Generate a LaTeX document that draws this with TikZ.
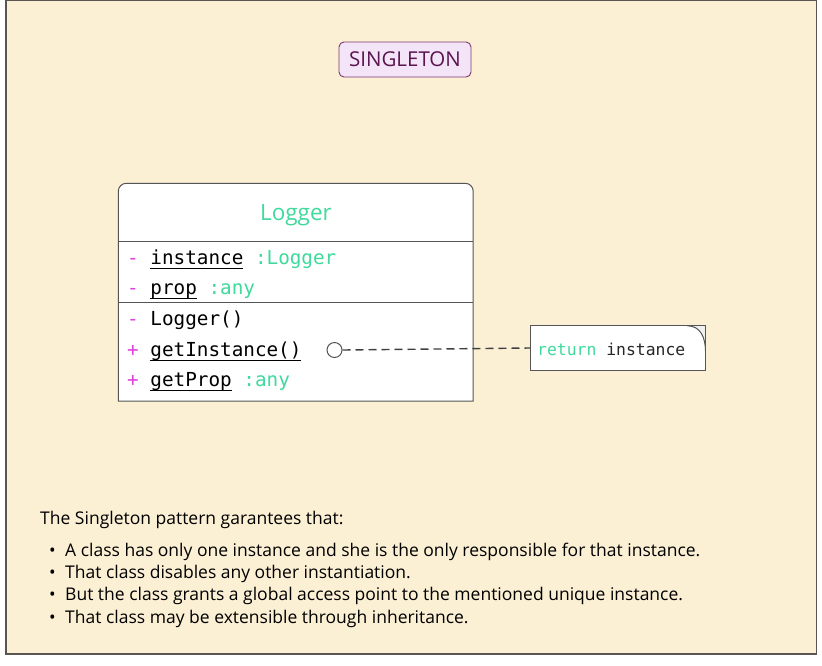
\documentclass[tikz,border=0pt]{standalone}
\usepackage{fontspec}
\setmainfont{Open Sans}
\newfontfamily\codefont{DejaVu Sans Mono}
\definecolor{bgc}{HTML}{FBEFD4}
\definecolor{framec}{HTML}{5A5550}
\definecolor{linec}{HTML}{555555}
\definecolor{mint}{HTML}{3FDA9C}
\definecolor{magen}{HTML}{DD44DD}
\definecolor{titlefill}{HTML}{F3E4F8}
\definecolor{titledraw}{HTML}{7E3A6E}
\definecolor{titletext}{HTML}{5B1650}
\definecolor{cornerc}{HTML}{F0F0F0}
\newcommand\udl[1]{\setbox0\hbox{#1}\rlap{\rule[-4pt]{\wd0}{1pt}}\box0\relax}
\tikzset{
  rowtext/.style={anchor=base west, inner sep=0pt, font=\codefont\fontsize{19.3}{22}\selectfont},
  notetext/.style={anchor=base west, inner sep=0pt, font=\codefont\fontsize{16.4}{20}\selectfont},
  bodytext/.style={anchor=base west, inner sep=0pt, font=\fontsize{17.5}{20}\selectfont},
  sepline/.style={draw=linec, line width=1pt},
}
\begin{document}
\begin{tikzpicture}[x=1pt, y=-1pt]
\useasboundingbox (0,0) rectangle (822,665);
\fill[white] (0,0) rectangle (822,665);
\draw[fill=bgc, draw=framec, line width=1.2pt] (6,0.6) rectangle (816.4,654);

% title
\node[draw=titledraw, fill=titlefill, rounded corners=5pt, line width=0.9pt,
      minimum width=132pt, minimum height=35pt, inner sep=0pt,
      font=\fontsize{20.5}{24}\selectfont, text=titletext] (title) at (405,59.5) {SINGLETON};

% class box
\node[inner sep=0pt, minimum width=354.5pt, minimum height=217.5pt] (logger) at (295.75,292.25) {};
\draw[fill=white, draw=linec, line width=1pt, rounded corners=8pt]
  (logger.south west) -- (logger.north west) -- (logger.north east) [sharp corners]-- (logger.south east) -- cycle;
\draw[sepline] (118.5,241) -- (473,241);
\draw[sepline] (118.5,302) -- (473,302);
\node[anchor=base, inner sep=0pt, text=mint, font=\fontsize{22.5}{26}\selectfont] (lname) at (296,220) {Logger};

\node[rowtext] (r1) at (127,264.5) {\textcolor{magen}{-} \udl{instance} \textcolor{mint}{:Logger}};
\node[rowtext] (r2) at (127,294.5) {\textcolor{magen}{-} \udl{prop} \textcolor{mint}{:any}};
\node[rowtext] (r3) at (127,325.5) {\textcolor{magen}{-} Logger()};
\node[rowtext] (r4) at (127,356.5) {\textcolor{magen}{+} \udl{getInstance()}};
\node[rowtext] (r5) at (127,386.5) {\textcolor{magen}{+} \udl{getProp} \textcolor{mint}{:any}};

% note
\node[inner sep=0pt, minimum width=175pt, minimum height=44pt] (note) at (617.75,348) {};
\fill[white] (note.north west) rectangle (note.south east);
\fill[cornerc] ([xshift=-18pt]note.north east) .. controls ([xshift=-5pt]note.north east) and ([yshift=-12pt]note.north east) .. ([yshift=-25pt]note.north east) -- (note.north east) -- cycle;
\draw[draw=linec, line width=1pt] ([xshift=-18pt]note.north east) .. controls ([xshift=-5pt]note.north east) and ([yshift=-12pt]note.north east) .. ([yshift=-25pt]note.north east);
\draw[draw=linec, line width=1pt] (note.north west) rectangle (note.south east);
\node[notetext] (ntext) at (537,355.5) {\textcolor{mint}{return} \textcolor{black!85}{instance}};

% lollipop + dashed connector
\node[circle, draw=linec, fill=white, line width=1pt, minimum size=15pt, inner sep=0pt] (circ) at (334.5,350) {};
\draw[draw=black!75, line width=1.4pt, dash pattern=on 8pt off 5pt] (circ.east) -- (note.west);

% description
\node[bodytext] (d0) at (40,524.5) {The Singleton pattern garantees that:};
\node[bodytext] (b1) at (49,556) {\textbullet};
\node[bodytext] (t1) at (65,556) {A class has only one instance and she is the only responsible for that instance.};
\node[bodytext] (b2) at (49,578) {\textbullet};
\node[bodytext] (t2) at (65,578) {That class disables any other instantiation.};
\node[bodytext] (b3) at (49,600) {\textbullet};
\node[bodytext] (t3) at (65,600) {But the class grants a global access point to the mentioned unique instance.};
\node[bodytext] (b4) at (49,623) {\textbullet};
\node[bodytext] (t4) at (65,623) {That class may be extensible through inheritance.};
\end{tikzpicture}
\end{document}
